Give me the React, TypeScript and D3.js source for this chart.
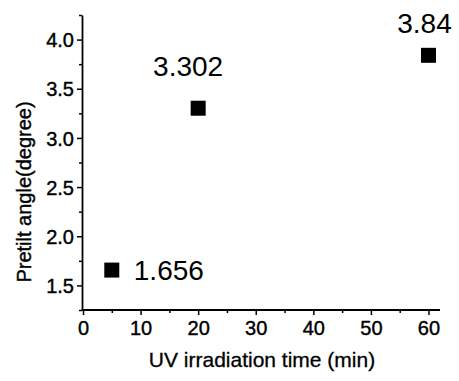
import React, {useRef, useEffect} from 'react'
import * as d3 from 'd3'

const times = [5, 20, 60]
const angles = [1.656, 3.302, 3.84]
const pointLabels = ['1.656', '3.302', '3.84']
const xTicks = [0, 10, 20, 30, 40, 50, 60]
const yTicks = [1.5, 2.0, 2.5, 3.0, 3.5, 4.0]

const W = 459
const H = 381
const font = '"Liberation Sans", Arial, sans-serif'

export default function App() {
  const ref = useRef<SVGSVGElement>(null)

  useEffect(() => {
    const svg = d3.select(ref.current)
    svg.selectAll('*').remove()

    const x = d3.scaleLinear().domain([0, 62]).range([83, 440])
    const y = d3.scaleLinear().domain([1.25, 4.25]).range([310, 15])

    // minor ticks first
    svg
      .append('g')
      .attr('transform', 'translate(0,310)')
      .call(d3.axisBottom(x).tickValues(d3.range(5, 62, 10)).tickSize(3).tickFormat(() => ''))
      .call(g => g.select('.domain').remove())
    svg
      .append('g')
      .attr('transform', 'translate(82,0)')
      .call(d3.axisLeft(y).tickValues([1.25, 1.75, 2.25, 2.75, 3.25, 3.75, 4.25]).tickSize(3).tickFormat(() => ''))
      .call(g => g.select('.domain').remove())

    const xAxis = svg
      .append('g')
      .attr('transform', 'translate(0,310)')
      .call(d3.axisBottom(x).tickValues(xTicks).tickSize(5).tickPadding(6).tickSizeOuter(0))
    xAxis.select('.domain').attr('d', 'M82,0H440')

    const yAxis = svg
      .append('g')
      .attr('transform', 'translate(82,0)')
      .call(d3.axisLeft(y).tickValues(yTicks).tickSize(5).tickPadding(3).tickFormat(d3.format('.1f')).tickSizeOuter(0))

    svg.selectAll('.tick line').attr('stroke', '#000').attr('stroke-width', 1.5)
    svg.selectAll('.domain').attr('stroke', '#000').attr('stroke-width', 1.8)
    svg
      .selectAll('.tick text')
      .attr('font-family', font)
      .attr('font-size', 20)
      .attr('fill', '#000')
      .attr('stroke', '#000')
      .attr('stroke-width', 0.4)
    yAxis.selectAll('.tick text').attr('dy', '0.36em')

    const size = 15
    svg
      .append('g')
      .selectAll('rect')
      .data(times)
      .enter()
      .append('rect')
      .attr('x', (d) => x(d) - size / 2)
      .attr('y', (d, i) => y(angles[i]) - size / 2)
      .attr('width', size)
      .attr('height', size)
      .attr('fill', '#000')

    // value labels
    const offsets = [
      {dx: 22, dy: 10, anchor: 'start'},
      {dx: -10, dy: -32, anchor: 'middle'},
      {dx: -4, dy: -22, anchor: 'middle'}
    ]
    svg
      .append('g')
      .selectAll('text')
      .data(times)
      .enter()
      .append('text')
      .attr('x', (d, i) => x(d) + offsets[i].dx)
      .attr('y', (d, i) => y(angles[i]) + offsets[i].dy)
      .attr('text-anchor', (d, i) => offsets[i].anchor)
      .attr('font-family', font)
      .attr('font-size', 28)
      .attr('fill', '#000')
      .text((d, i) => pointLabels[i])

    svg
      .append('text')
      .attr('x', 262)
      .attr('y', 367)
      .attr('text-anchor', 'middle')
      .attr('font-family', font)
      .attr('font-size', 21)
      .attr('stroke', '#000')
      .attr('stroke-width', 0.3)
      .text('UV irradiation time (min)')

    svg
      .append('text')
      .attr('transform', 'translate(31,192) rotate(-90)')
      .attr('text-anchor', 'middle')
      .attr('font-family', font)
      .attr('font-size', 20)
      .attr('stroke', '#000')
      .attr('stroke-width', 0.4)
      .text('Pretilt angle(degree)')
  }, [])

  return (
    <svg
      ref={ref}
      width={W}
      height={H}
      style={{position: 'absolute', left: 0, top: 0, background: '#fff'}}
    />
  )
}
